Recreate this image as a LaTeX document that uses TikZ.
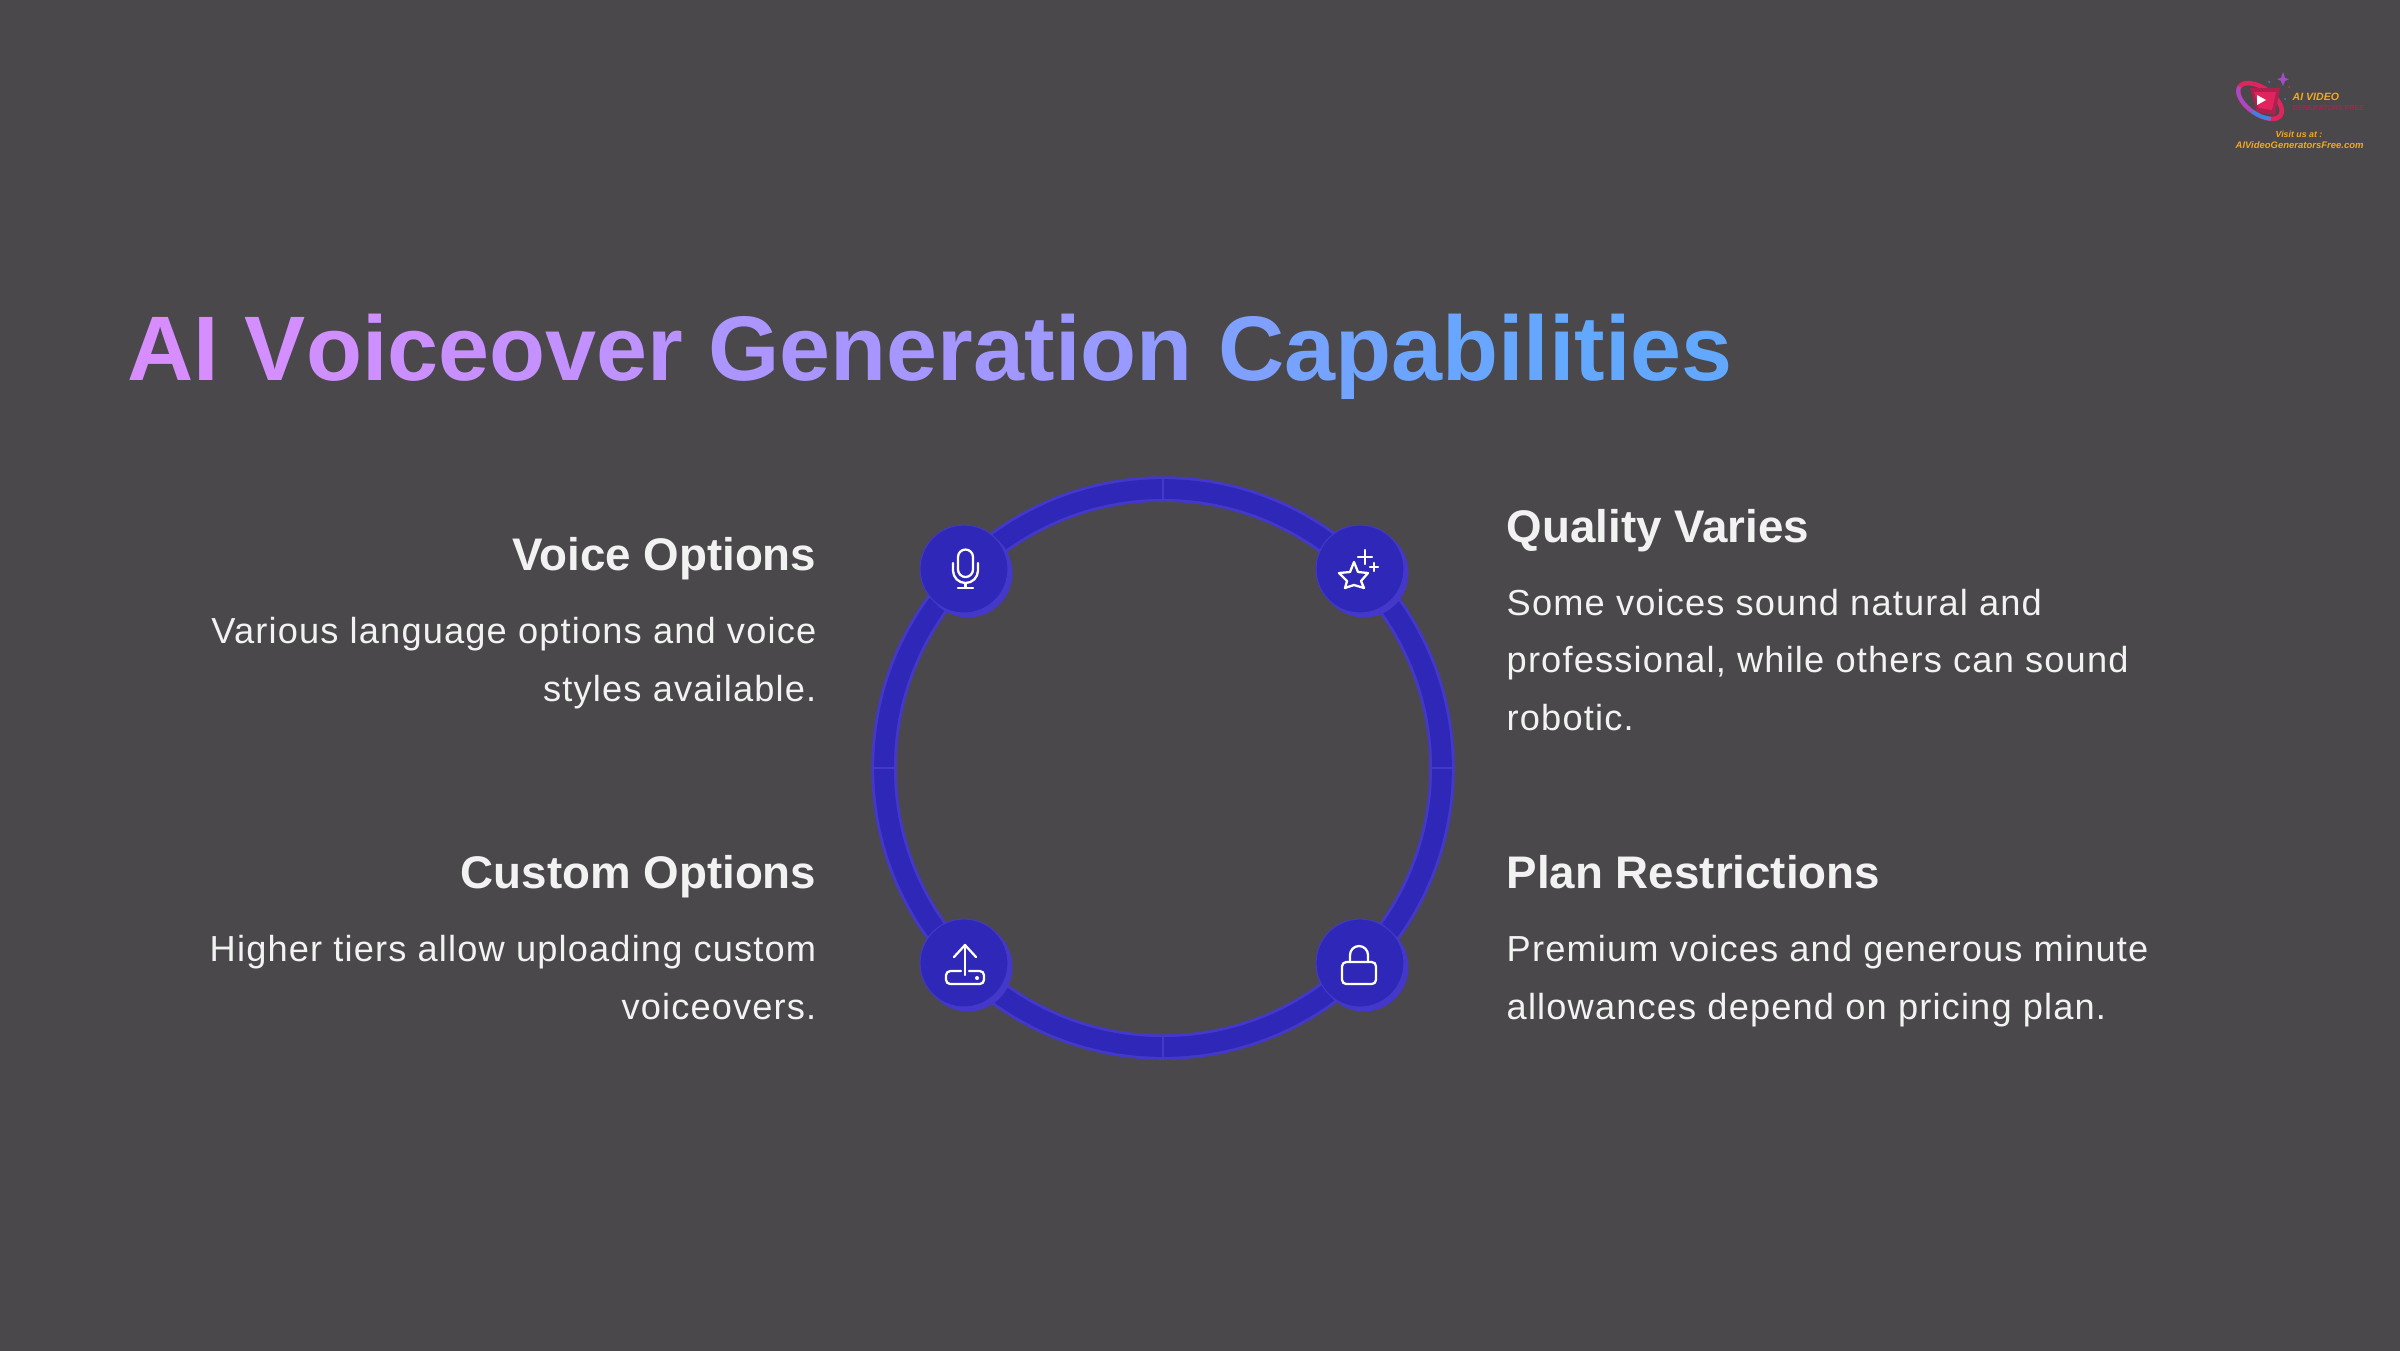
\documentclass[tikz,border=0pt]{standalone}
\usepackage{fontspec}
\setmainfont{Liberation Sans}
\newfontfamily\spacedfont[LetterSpace=3.2]{Liberation Sans}
\usetikzlibrary{calc}
\definecolor{bgcol}{HTML}{4A484A}
\definecolor{ringcol}{HTML}{2E27B8}
\definecolor{edgecol}{HTML}{4338CA}
\definecolor{textcol}{HTML}{F2F2F2}
\definecolor{leftcol}{HTML}{D88DFF}
\definecolor{midcol}{HTML}{A596FF}
\definecolor{rightcol}{HTML}{62A8FF}
\definecolor{logoora}{HTML}{F5A81C}
\definecolor{logopink}{HTML}{E0245E}
\definecolor{logodark}{HTML}{B0204F}
\definecolor{logopurple}{HTML}{A44BC8}
\definecolor{logoblue}{HTML}{3B82E6}
\tikzset{
	heading/.style={text=textcol, font=\fontsize{13}{16}\selectfont\bfseries, inner sep=0pt},
	bodyleft/.style={text=textcol, font=\spacedfont\fontsize{10.3}{16.3}\selectfont, inner sep=0pt, align=right, anchor=base east},
	bodyright/.style={text=textcol, font=\spacedfont\fontsize{10.3}{16.3}\selectfont, inner sep=0pt, align=left, anchor=base west},
	iconline/.style={draw=white, line width=0.65pt, line cap=round, line join=round},
	logotext/.style={inner sep=0pt, anchor=base west, font=\fontsize{3}{3}\selectfont\bfseries\itshape}
}
% one title letter, #2 = percent of the way along a colour stretch
\newcommand{\ltr}[3]{\textcolor{#1!#2!midcol}{#3}}
\newcommand{\disc}[3] % x, y, name
{
	% offset rim
	\fill[edgecol] (#1+4,#2+4) circle (44.5);
	% face
	\node[circle, fill=ringcol, draw=edgecol, line width=0.3pt, minimum size=25pt, inner sep=0pt] (#3) at (#1,#2) {};
}
\begin{document}
\begin{tikzpicture}[x=0.01cm, y=-0.01cm]
	% page: 2400 x 1350, all numbers in pixels
	\useasboundingbox (0, 0) rectangle (2400, 1350);
	\fill[bgcol] (-5, -5) rectangle (2405, 1355);
	% title
	\node[anchor=base west, inner sep=0pt, font=\fontsize{26.07}{30}\selectfont\bfseries] (title) at (127, 380) {%
		\ltr{leftcol}{100}{A}\ltr{leftcol}{97}{I} \ltr{leftcol}{90}{V}\ltr{leftcol}{84}{o}\ltr{leftcol}{80}{i}\ltr{leftcol}{75}{c}\ltr{leftcol}{69}{e}\ltr{leftcol}{62}{o}\ltr{leftcol}{56}{v}\ltr{leftcol}{50}{e}\ltr{leftcol}{42}{r} %
		\ltr{leftcol}{15}{G}\ltr{leftcol}{10}{e}\ltr{leftcol}{5}{n}\ltr{leftcol}{2}{e}\ltr{leftcol}{0}{r}\ltr{rightcol}{5}{a}\ltr{rightcol}{10}{t}\ltr{rightcol}{14}{i}\ltr{rightcol}{20}{o}\ltr{rightcol}{30}{n} %
		\ltr{rightcol}{55}{C}\ltr{rightcol}{70}{a}\ltr{rightcol}{78}{p}\ltr{rightcol}{85}{a}\ltr{rightcol}{90}{b}\ltr{rightcol}{93}{i}\ltr{rightcol}{95}{l}\ltr{rightcol}{97}{i}\ltr{rightcol}{98}{t}\ltr{rightcol}{99}{i}\ltr{rightcol}{100}{e}\ltr{rightcol}{100}{s}};
	% ring
	\draw[edgecol, line width=7.25pt] (1163, 768) circle (279);
	\draw[ringcol, line width=5.6pt] (1163, 768) circle (279);
	% ring ticks
	\draw[edgecol, line width=0.8pt] (1163, 478) -- (1163, 502);
	\draw[edgecol, line width=0.8pt] (1163, 1034) -- (1163, 1058);
	\draw[edgecol, line width=0.8pt] (873, 768) -- (897, 768);
	\draw[edgecol, line width=0.8pt] (1429, 768) -- (1453, 768);
	% discs
	\disc{964}{569}{micdisc}
	\disc{1360}{569}{stardisc}
	\disc{964}{963}{uploaddisc}
	\disc{1360}{963}{lockdisc}
	% microphone
	\draw[iconline] (958, 557) arc (180:360:7.5) -- (973, 569.5) arc (0:180:7.5) -- cycle;
	\draw[iconline] (953, 563) -- (953, 570.5) arc (180:0:12.5) -- (978, 563);
	\draw[iconline] (965.5, 583) -- (965.5, 588);
	\draw[iconline] (958, 588) -- (973, 588);
	% star with sparkles
	\draw[iconline] (1354, 562) -- (1358, 572) -- (1368, 573) -- (1361, 581) -- (1364, 588) -- (1354, 585) -- (1345, 588) -- (1347, 581) -- (1339, 573) -- (1350, 572) -- cycle;
	\draw[iconline] (1365, 550) -- (1365, 564) (1358, 557) -- (1372, 557);
	\draw[iconline] (1374, 563) -- (1374, 571) (1370, 567) -- (1378, 567);
	% upload tray
	\draw[iconline] (965, 945) -- (965, 975);
	\draw[iconline] (954, 957) -- (965, 945) -- (976, 957);
	\draw[iconline, rounded corners=1.2pt] (961, 971) -- (946, 971) -- (946, 984) -- (984, 984) -- (984, 971) -- (969, 971);
	\fill[white] (977, 978) circle (2);
	% lock
	\draw[iconline, rounded corners=1.2pt] (1342, 962) rectangle (1376, 984);
	\draw[iconline] (1350, 962) -- (1350, 955) arc (180:360:9) -- (1368, 962);
	% left column
	\node[heading, anchor=base east] (voicehead) at (817, 570) {Voice Options};
	\node[bodyleft] (voicebody) at (817, 701) {Various language options and voice\\styles available.};
	\node[heading, anchor=base east] (customhead) at (817, 888) {Custom Options};
	\node[bodyleft] (custombody) at (817, 1019) {Higher tiers allow uploading custom\\voiceovers.};
	% right column
	\node[heading, anchor=base west] (qualityhead) at (1506, 542) {Quality Varies};
	\node[bodyright] (qualitybody) at (1506, 730) {Some voices sound natural and\\professional, while others can sound\\robotic.};
	\node[heading, anchor=base west] (planhead) at (1506, 888) {Plan Restrictions};
	\node[bodyright] (planbody) at (1506, 1019) {Premium voices and generous minute\\allowances depend on pricing plan.};
	% logo
	\begin{scope}[rotate around={-35:(2260, 101)}]
		\draw[logopink, line width=1.3pt] (2260, 101) ellipse (25 and 13);
	\end{scope}
	\fill[logodark] (2250, 88) -- (2280, 88) -- (2275, 115) -- (2257, 112) -- cycle;
	\fill[logopink] (2254, 92) -- (2276, 92) -- (2272, 110) -- (2259, 108) -- cycle;
	\begin{scope}[rotate around={-35:(2260, 101)}]
		\draw[logopurple, line width=1.1pt] (2235, 101) arc (180:90:25 and 13);
		\draw[logoblue, line width=1.1pt] (2260, 114) arc (90:40:25 and 13);
	\end{scope}
	\fill[white] (2257, 95) -- (2266, 100) -- (2257, 105) -- cycle;
	\fill[logopurple] (2283, 72) -- (2285, 78) -- (2289, 79) -- (2285, 81) -- (2283, 86) -- (2281, 81) -- (2277, 79) -- (2281, 78) -- cycle;
	\fill[logoblue] (2269, 82) circle (1);
	\fill[logoblue] (2285, 99) circle (1);
	\fill[logopink] (2289, 87) circle (1);
	\node[logotext, text=logoora] (logoname) at (2292, 100) {AI VIDEO};
	\node[logotext, text=logodark, font=\fontsize{2.05}{2}\selectfont\bfseries] (logosub) at (2292, 110) {GENERATORS FREE};
	\node[logotext, text=logoora, font=\fontsize{2.5}{3}\selectfont\bfseries\itshape] (logovisit) at (2275, 137) {Visit us at :};
	\node[logotext, text=logoora, font=\fontsize{2.7}{3}\selectfont\bfseries\itshape] (logourl) at (2235, 148) {AIVideoGeneratorsFree.com};
\end{tikzpicture}
\end{document}
